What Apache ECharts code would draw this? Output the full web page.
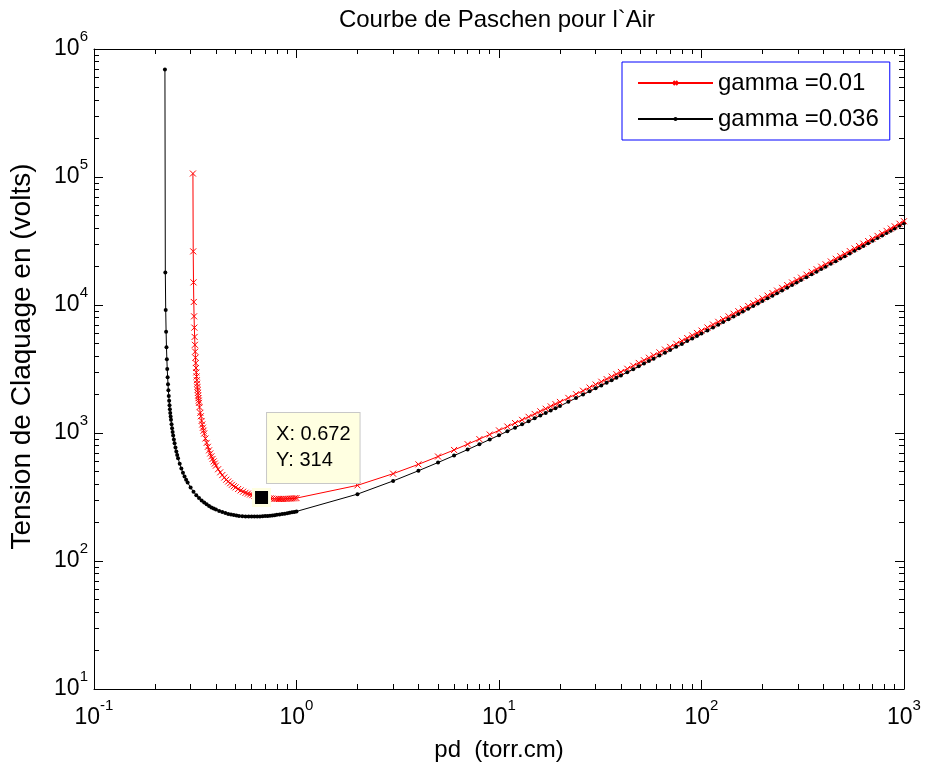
<!DOCTYPE html>
<html>
<head>
<meta charset="utf-8">
<title>Courbe de Paschen pour l`Air</title>
<script src="https://cdn.jsdelivr.net/npm/echarts@6/dist/echarts.min.js"></script>
<style>
  html, body { margin: 0; padding: 0; background: #fff; }
  #chart { width: 927px; height: 765px; }
</style>
</head>
<body>
<div id="chart"></div>
<script>
// données
const seriesNames = ['gamma =0.01', 'gamma =0.036'];

const redPdLow = [0.308, 0.309, 0.310, 0.311, 0.312, 0.313, 0.314, 0.315, 0.316, 0.317, 0.318, 0.319, 0.320, 0.321, 0.322, 0.323, 0.324, 0.325, 0.326, 0.327, 0.328, 0.329, 0.330, 0.332, 0.335, 0.337, 0.340, 0.3425, 0.345, 0.3475, 0.350, 0.355, 0.36, 0.365, 0.37, 0.375, 0.38, 0.385, 0.39, 0.395, 0.40, 0.41, 0.42, 0.43, 0.44, 0.45, 0.46, 0.47, 0.48, 0.49, 0.50, 0.515, 0.53, 0.545, 0.56, 0.575, 0.59, 0.605, 0.62, 0.635, 0.65, 0.672, 0.685, 0.70, 0.715, 0.73, 0.745, 0.76, 0.78, 0.80, 0.82, 0.84, 0.86, 0.88, 0.90, 0.92, 0.94, 0.96, 0.98];
const redVLow = [106458, 26241, 15029, 10560, 8158, 6658, 5632, 4886, 4320, 3875, 3516, 3221, 2974, 2764, 2583, 2425, 2287, 2165, 2057, 1959, 1872, 1792, 1720, 1593, 1437, 1351, 1242, 1166, 1100, 1042, 991, 906, 837, 780, 732, 692, 657, 627, 600, 577, 556, 521, 493, 469, 449, 432, 418, 405, 394, 384, 376, 365, 356, 348, 341, 336, 331, 327, 323, 320, 317, 314, 312, 311, 310, 308, 308, 307, 306, 306, 305, 305, 305, 306, 306, 307, 307, 308, 309];

const blackPdLow = [0.224, 0.225, 0.226, 0.227, 0.228, 0.229, 0.230, 0.231, 0.232, 0.233, 0.234, 0.235, 0.236, 0.237, 0.238, 0.239, 0.240, 0.2415, 0.243, 0.2445, 0.246, 0.248, 0.250, 0.2525, 0.255, 0.2575, 0.26, 0.265, 0.27, 0.275, 0.28, 0.285, 0.29, 0.30, 0.31, 0.32, 0.33, 0.34, 0.35, 0.36, 0.37, 0.38, 0.39, 0.40, 0.415, 0.43, 0.445, 0.46, 0.475, 0.49, 0.505, 0.52, 0.54, 0.56, 0.58, 0.60, 0.62, 0.64, 0.66, 0.68, 0.70, 0.72, 0.74, 0.76, 0.78, 0.80, 0.825, 0.85, 0.875, 0.90, 0.925, 0.95, 0.975];
const blackVLow = [692881, 17963, 9158, 6173, 4671, 3766, 3162, 2730, 2405, 2153, 1950, 1785, 1647, 1530, 1430, 1343, 1268, 1170, 1088, 1018, 957, 888, 830, 769, 717, 674, 636, 575, 527, 489, 458, 432, 410, 375, 348, 327, 311, 297, 286, 277, 269, 262, 257, 252, 246, 241, 237, 233, 231, 229, 227, 225, 224, 223, 222.5, 222.2, 222.3, 222.5, 222.9, 223.5, 224.2, 225.1, 226.0, 227.0, 228.2, 229.4, 230.9, 232.6, 234.4, 236.2, 238.1, 240.0, 241.9];

const pdHigh = [1, 2, 3, 4, 5, 6, 7, 8, 9, 10, 11, 12, 13, 14, 15, 16, 17, 18, 19, 20, 22, 24, 26, 28, 30, 32, 34, 36, 38, 40, 43, 46, 49, 52, 55, 58, 62, 66, 70, 75, 80, 85, 90, 95, 100, 107, 114, 121, 128, 136, 144, 152, 160, 170, 180, 190, 200, 212, 224, 236, 250, 265, 280, 295, 310, 330, 350, 370, 390, 410, 435, 460, 485, 510, 540, 570, 600, 630, 665, 700, 740, 780, 820, 860, 900, 950, 1000];
const redVHigh = [310, 390, 481, 569, 655, 737, 818, 896, 973, 1048, 1123, 1196, 1267, 1338, 1409, 1478, 1547, 1615, 1682, 1749, 1881, 2011, 2139, 2266, 2391, 2515, 2638, 2759, 2880, 2999, 3177, 3353, 3527, 3700, 3871, 4041, 4265, 4487, 4708, 4981, 5251, 5519, 5785, 6049, 6311, 6674, 7035, 7392, 7747, 8149, 8548, 8945, 9338, 9826, 10311, 10793, 11270, 11840, 12406, 12968, 13619, 14312, 15000, 15683, 16362, 17262, 18155, 19042, 19923, 20800, 21888, 22968, 24043, 25111, 26384, 27650, 28908, 30160, 31611, 33054, 34693, 36323, 37944, 39556, 41160, 43154, 45137];
const blackVHigh = [244, 333, 422, 507, 588, 666, 742, 817, 889, 961, 1031, 1100, 1168, 1236, 1302, 1368, 1433, 1498, 1562, 1625, 1751, 1874, 1996, 2117, 2236, 2354, 2471, 2587, 2702, 2816, 2985, 3153, 3319, 3484, 3648, 3810, 4024, 4237, 4448, 4709, 4967, 5224, 5479, 5731, 5982, 6331, 6676, 7019, 7360, 7746, 8129, 8509, 8887, 9356, 9822, 10284, 10744, 11292, 11836, 12376, 13003, 13669, 14332, 14990, 15644, 16511, 17371, 18226, 19076, 19921, 20970, 22013, 23049, 24080, 25309, 26531, 27745, 28954, 30356, 31750, 33334, 34909, 36475, 38034, 39585, 41513, 43432];

// data tip
const tipPd = 0.672;
const tipV = 314;

// graduations
const xMajor = [0.1, 1, 10, 100, 1000];
const yMajor = [10, 100, 1000, 10000, 100000, 1000000];

const fontFam = "'Liberation Sans', Arial, Helvetica, sans-serif";

function minorOf(major) {
  const out = [];
  for (let i = 0; i < major.length - 1; i++) {
    for (let k = 2; k <= 9; k++) out.push(+(major[i] * k).toPrecision(3));
  }
  return out;
}

function zip(xs, ys) {
  return xs.map((x, i) => [x, ys[i]]);
}

const redData = zip(redPdLow, redVLow).concat(zip(pdHigh, redVHigh));
const blackData = zip(blackPdLow, blackVLow).concat(zip(pdHigh, blackVHigh));

const powRich = {
  b: { fontSize: 23, lineHeight: 40, verticalAlign: 'middle', color: '#000', fontFamily: fontFam },
  s: { fontSize: 15, lineHeight: 16, verticalAlign: 'top', color: '#000', fontFamily: fontFam }
};
const powLabel = (v) => '{b|10}{s|' + Math.round(Math.log10(v)) + '}';

// un axe log (ticks vers l'intérieur, comme MATLAB)
function logAxis(min, max, position, ticks, tickLen, withLine, label) {
  return {
    type: 'log',
    logBase: 10,
    min: min,
    max: max,
    position: position,
    axisLine: { show: withLine, onZero: false, lineStyle: { color: '#000', width: 1 } },
    axisTick: { show: true, inside: true, length: tickLen, customValues: ticks, lineStyle: { color: '#000', width: 1 } },
    axisLabel: label || { show: false },
    splitLine: { show: false },
    minorTick: { show: false },
    minorSplitLine: { show: false }
  };
}

const chart = echarts.init(document.getElementById('chart'), null, { renderer: 'canvas' });

const xLabel = { show: true, customValues: xMajor, margin: 9, formatter: powLabel, rich: powRich };
const yLabel = { show: true, customValues: yMajor, margin: 6, formatter: powLabel, rich: powRich };

const xBottom = logAxis(0.1, 1000, 'bottom', xMajor, 9, true, xLabel);
xBottom.name = 'pd  (torr.cm)';
xBottom.nameLocation = 'middle';
xBottom.nameGap = 49;
xBottom.nameTextStyle = { fontSize: 24, color: '#000', fontFamily: fontFam };

const yLeft = logAxis(10, 1000000, 'left', yMajor, 9, true, yLabel);
yLeft.name = 'Tension de Claquage en (volts)';
yLeft.nameLocation = 'middle';
yLeft.nameGap = 58;
yLeft.nameTextStyle = { fontSize: 28, color: '#000', fontFamily: fontFam, padding: [0, 0, 0, 25] };

const option = {
  animation: false,
  backgroundColor: '#fff',
  title: {
    text: 'Courbe de Paschen pour l`Air',
    left: 492,
    top: 3,
    textAlign: 'center',
    textStyle: { fontSize: 24, fontWeight: 'normal', color: '#000', fontFamily: fontFam }
  },
  legend: {
    data: seriesNames,
    orient: 'vertical',
    left: 622,
    top: 62,
    padding: [9, 11, 9, 15],
    itemGap: 12,
    itemWidth: 75,
    itemHeight: 5,
    borderColor: '#0000ff',
    borderWidth: 1,
    backgroundColor: '#fff',
    textStyle: { fontSize: 24, color: '#000', fontFamily: fontFam }
  },
  grid: {
    left: 94,
    right: 23,
    top: 49,
    bottom: 76,
    containLabel: false,
    outerBoundsMode: 'none'
  },
  xAxis: [
    xBottom,
    logAxis(0.1, 1000, 'bottom', minorOf(xMajor), 5, false),
    logAxis(0.1, 1000, 'top', xMajor, 9, true),
    logAxis(0.1, 1000, 'top', minorOf(xMajor), 5, false)
  ],
  yAxis: [
    yLeft,
    logAxis(10, 1000000, 'left', minorOf(yMajor), 5, false),
    logAxis(10, 1000000, 'right', yMajor, 9, true),
    logAxis(10, 1000000, 'right', minorOf(yMajor), 5, false)
  ],
  series: [
    {
      name: seriesNames[0],
      type: 'line',
      xAxisIndex: 0,
      yAxisIndex: 0,
      data: redData,
      symbol: 'path://M0,0L10,10M10,0L0,10',
      symbolSize: 6,
      showSymbol: true,
      lineStyle: { color: '#ff0000', width: 1 },
      itemStyle: { color: '#ff0000', borderColor: '#ff0000', borderWidth: 1 },
      z: 3,
      markPoint: {
        symbol: 'rect',
        symbolSize: 16,
        itemStyle: { color: '#000', borderColor: '#ffffe1', borderWidth: 3 },
        label: {
          show: true,
          position: [15, -75],
          align: 'left',
          verticalAlign: 'top',
          formatter: 'X: ' + tipPd + '\nY: ' + tipV,
          fontSize: 20,
          lineHeight: 26,
          color: '#000',
          fontFamily: fontFam,
          backgroundColor: '#ffffe1',
          borderColor: '#c8c8c8',
          borderWidth: 1,
          padding: [9, 9, 9, 9]
        },
        data: [{ coord: [tipPd, tipV] }]
      }
    },
    {
      name: seriesNames[1],
      type: 'line',
      xAxisIndex: 0,
      yAxisIndex: 0,
      data: blackData,
      symbol: 'circle',
      symbolSize: 4,
      showSymbol: true,
      lineStyle: { color: '#000', width: 1 },
      itemStyle: { color: '#000' },
      z: 2
    }
  ]
};

chart.setOption(option);
</script>
</body>
</html>
